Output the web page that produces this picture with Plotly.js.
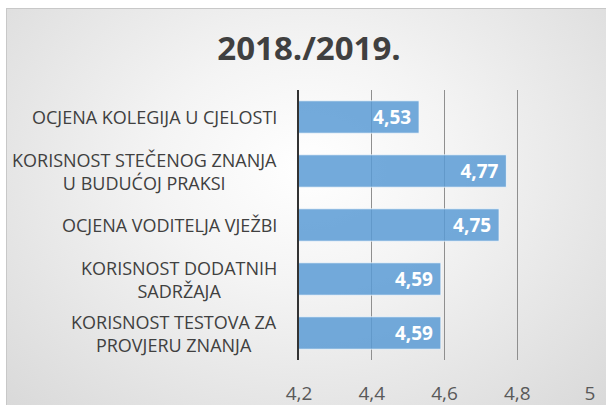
<!DOCTYPE html>
<html><head><meta charset="utf-8">
<script src="https://cdn.plot.ly/plotly-3.0.1.min.js"></script>
<style>
html,body{margin:0;padding:0;background:#fff;}
#bg{position:absolute;left:6px;top:8px;width:600px;height:397px;
 background:radial-gradient(ellipse at 50% 40%, #ffffff 0%, #f4f4f4 35%, #d9d9d9 100%);
 border-top:1px solid #c8c8c8;border-left:1px solid #c8c8c8;}
#chart{position:absolute;left:0;top:0;width:606px;height:405px;}
</style></head>
<body>
<div id="bg"></div>
<div id="chart"></div>
<script>
const categories = [
  "OCJENA KOLEGIJA U CJELOSTI",
  "KORISNOST STEČENOG ZNANJA<br>U BUDUĆOJ PRAKSI",
  "OCJENA VODITELJA VJEŽBI",
  "KORISNOST DODATNIH<br>SADRŽAJA",
  "KORISNOST TESTOVA ZA<br>PROVJERU ZNANJA"
];
const values = [4.53, 4.77, 4.75, 4.59, 4.59];
const xTicks = [4.2, 4.4, 4.6, 4.8, 5];
const xTickLabels = ["4,2", "4,4", "4,6", "4,8", "5"];
const titleText = "2018./2019.";

const fontFam = "Open Sans, Lato, sans-serif";
const labelAnnotations = categories.map(c => ({
  text: c, xref: 'paper', yref: 'y', x: 0, y: c,
  xanchor: 'right', yanchor: 'middle', xshift: -20, align: 'center',
  showarrow: false,
  font: {family: fontFam, size: 18, color: '#404040'}
}));

Plotly.newPlot('chart', [{
  type: 'bar',
  orientation: 'h',
  y: categories,
  x: values,
  base: 0,
  marker: {color: 'rgba(91,155,213,0.85)', line: {color: 'rgba(255,255,255,0.7)', width: 1}},
  text: values.map(v => v.toFixed(2).replace('.', ',') + '\u00a0'),
  textposition: 'inside',
  insidetextanchor: 'end',
  constraintext: 'none',
  textfont: {family: fontFam, size: 19, color: '#ffffff', weight: 'bold'},
  hoverinfo: 'none'
}], {
  width: 606, height: 405,
  paper_bgcolor: 'rgba(0,0,0,0)',
  plot_bgcolor: 'rgba(0,0,0,0)',
  margin: {l: 299, r: 16, t: 90, b: 45},
  bargap: 0.4,
  showlegend: false,
  title: {text: titleText, x: 0.51, xanchor: 'center', y: 0.88, yanchor: 'middle',
          font: {family: fontFam, size: 33, color: '#404040', weight: 'bold'}},
  annotations: labelAnnotations,
  xaxis: {range: [4.2, 5], tickvals: xTicks, ticktext: xTickLabels,
          showgrid: true, gridcolor: '#8f8f8f', gridwidth: 1, zeroline: false,
          showline: false, ticks: '', ticklabelstandoff: 20,
          tickfont: {family: fontFam, size: 19, color: '#595959'}, fixedrange: true},
  yaxis: {autorange: 'reversed', showline: true, linecolor: '#333333', linewidth: 2,
          ticks: '', showticklabels: false, showgrid: false, fixedrange: true}
}, {displayModeBar: false, staticPlot: true});
</script>
</body></html>
